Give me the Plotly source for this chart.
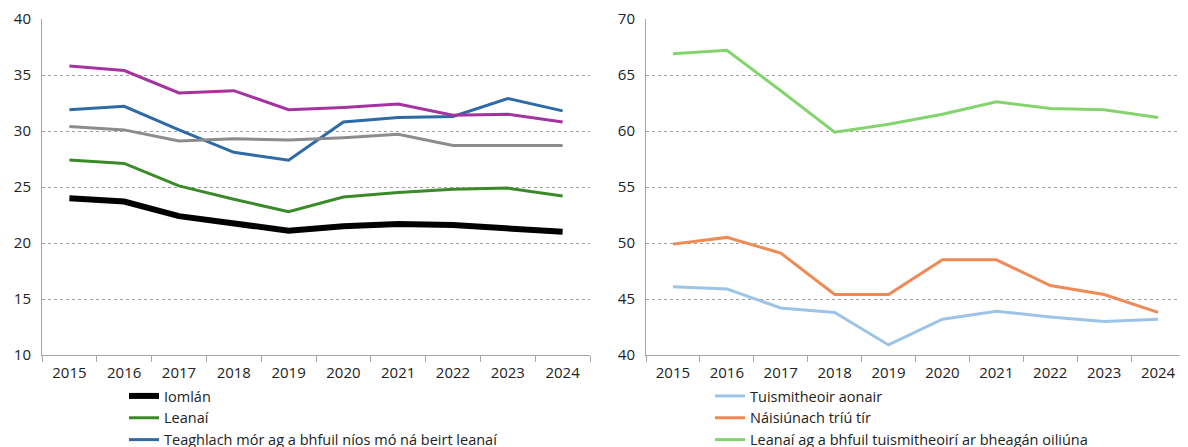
import plotly.graph_objects as go
from plotly.subplots import make_subplots

years = ["2015", "2016", "2017", "2018", "2019", "2020", "2021", "2022", "2023", "2024"]

# left panel
iomlan = [24.0, 23.7, 22.4, 21.7, 21.1, 21.5, 21.7, 21.6, 21.3, 21.0]
leanai = [27.4, 27.1, 25.1, 23.9, 22.8, 24.1, 24.5, 24.8, 24.9, 24.2]
teaghlach_mor = [31.9, 32.2, 30.1, 28.1, 27.4, 30.8, 31.2, 31.3, 32.9, 31.8]
magenta_series = [35.8, 35.4, 33.4, 33.6, 31.9, 32.1, 32.4, 31.4, 31.5, 30.8]
grey_series = [30.4, 30.1, 29.1, 29.3, 29.2, 29.4, 29.7, 28.7, 28.7, 28.7]

# right panel
tuismitheoir_aonair = [46.1, 45.9, 44.2, 43.8, 40.9, 43.2, 43.9, 43.4, 43.0, 43.2]
naisiunach = [49.9, 50.5, 49.1, 45.4, 45.4, 48.5, 48.5, 46.2, 45.4, 43.8]
bheagan_oiliuna = [66.9, 67.2, 63.6, 59.9, 60.6, 61.5, 62.6, 62.0, 61.9, 61.2]

# page adds an 8px body margin, so the figure is a bit smaller than the window
W, H = 1180, 439

fig = make_subplots(rows=1, cols=2)

left = [
    ("Iomlán", iomlan, "#000000", 6, True),
    ("Leanaí", leanai, "#3a8a2a", 3, True),
    ("Teaghlach mór ag a bhfuil níos mó ná beirt leanaí", teaghlach_mor, "#2e6aa6", 3, True),
    ("", magenta_series, "#a5339f", 3, False),
    ("", grey_series, "#8c8c8c", 3, False),
]
for name, vals, col, w, show in left:
    fig.add_trace(go.Scatter(x=years, y=vals, name=name, mode="lines",
                             line=dict(color=col, width=w), showlegend=show,
                             legend="legend", legendgroup=name or col), row=1, col=1)

right = [
    ("Tuismitheoir aonair", tuismitheoir_aonair, "#9dc3e6"),
    ("Náisiúnach tríú tír", naisiunach, "#ef8a55"),
    ("Leanaí ag a bhfuil tuismitheoirí ar bheagán oiliúna", bheagan_oiliuna, "#84d46e"),
]
for name, vals, col in right:
    fig.add_trace(go.Scatter(x=years, y=vals, name=name, mode="lines",
                             line=dict(color=col, width=3),
                             legend="legend2", legendgroup=name), row=1, col=2)

xax = dict(type="category", range=[-0.5, len(years) - 0.5], showline=True,
           linecolor="#a6a6a6", linewidth=1, ticks="outside", tickson="boundaries",
           ticklen=6, tickcolor="#a6a6a6", showgrid=False, ticklabelstandoff=4,
           tickfont=dict(size=15, color="#222"))
yax = dict(showline=True, linecolor="#a6a6a6", linewidth=1, dtick=5,
           showgrid=True, gridcolor="#a0a0a0", griddash="dot", gridwidth=1,
           zeroline=False, ticks="", ticklabelstandoff=7,
           tickfont=dict(size=15, color="#222"))

fig.update_xaxes(**xax)
fig.update_yaxes(**yax)
fig.update_layout(
    xaxis=dict(domain=[34 / W, 582 / W]),
    xaxis2=dict(domain=[638 / W, 1177 / W]),
    yaxis=dict(range=[10, 40]),
    yaxis2=dict(range=[40, 70]),
)

leg = dict(orientation="v", xanchor="left", yanchor="top", yref="container",
           tracegroupgap=0, font=dict(size=14.5, color="#222"),
           bgcolor="rgba(0,0,0,0)", itemwidth=30)
fig.update_layout(
    width=W, height=H,
    margin=dict(l=0, r=0, t=11, b=92, autoexpand=False),
    font=dict(family="Open Sans, Noto Sans, sans-serif"),
    paper_bgcolor="white", plot_bgcolor="white",
    legend=dict(leg, x=116 / W, y=1 - 372 / H),
    legend2=dict(leg, x=702 / W, y=1 - 372 / H),
)

fig.write_html("out.html")
